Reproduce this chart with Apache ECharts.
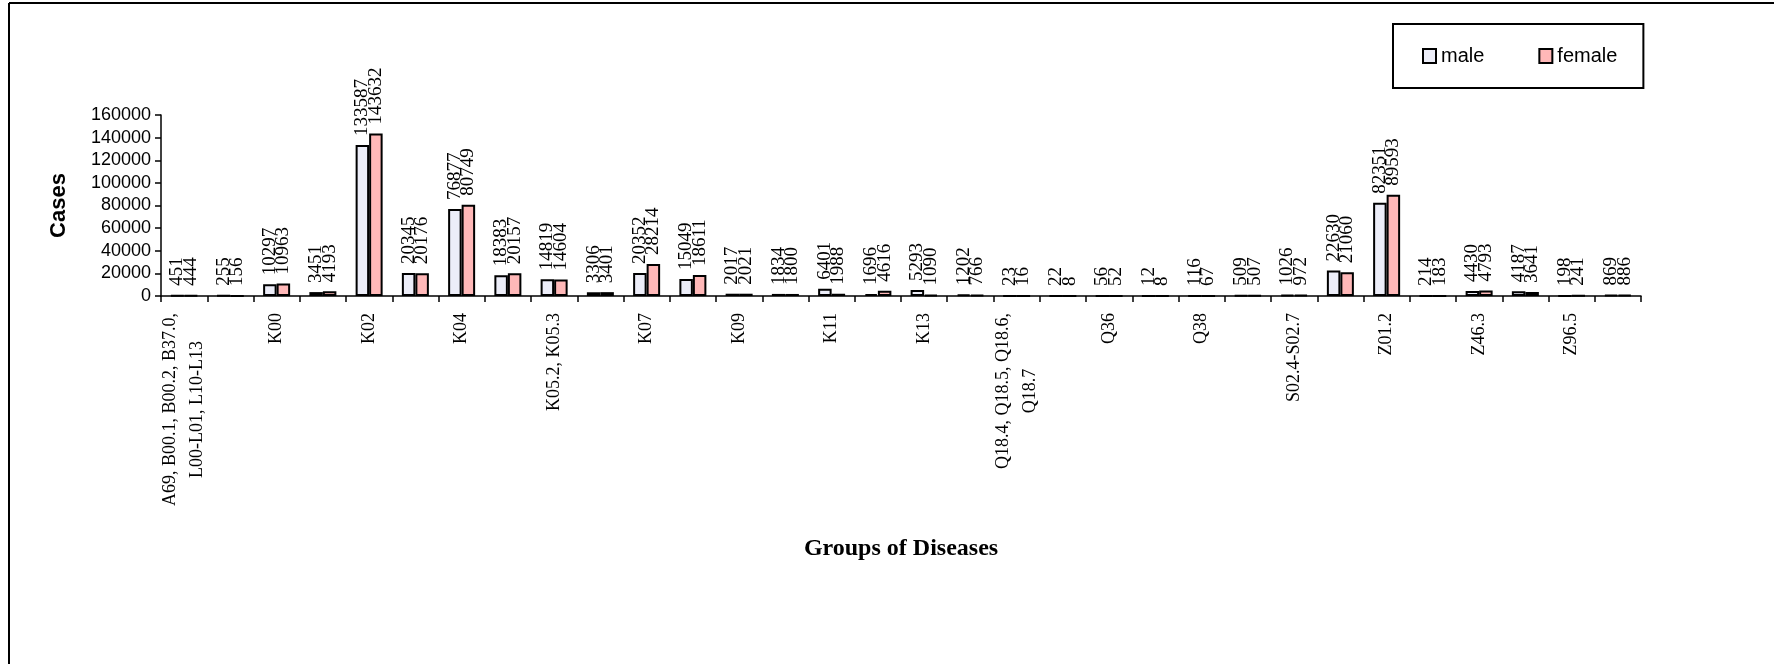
<!DOCTYPE html>
<html>
<head>
<meta charset="utf-8">
<script src="https://cdn.jsdelivr.net/npm/echarts@6/dist/echarts.min.js"></script>
<style>
html,body{margin:0;padding:0;background:#fff;}
#chart{width:1774px;height:664px;}
</style>
</head>
<body>
<div id="chart"></div>
<script>
var categories = [
  'A69, B00.1, B00.2, B37.0,\nL00-L01, L10-L13', '', 'K00', '', 'K02', '', 'K04', '',
  'K05.2, K05.3', '', 'K07', '', 'K09', '', 'K11', '', 'K13', '',
  'Q18.4, Q18.5, Q18.6,\nQ18.7', '', 'Q36', '', 'Q38', '', 'S02.4-S02.7', '',
  'Z01.2', '', 'Z46.3', '', 'Z96.5', ''
];
var male = [451, 255, 10297, 3451, 133587, 20345, 76877, 18383, 14819, 3306, 20352, 15049,
  2017, 1834, 6401, 1696, 5293, 1202, 23, 22, 56, 12, 116, 509, 1026, 22630, 82351, 214,
  4430, 4187, 198, 869];
var female = [444, 156, 10963, 4193, 143632, 20176, 80749, 20157, 14604, 3401, 28214, 18611,
  2021, 1800, 1988, 4616, 1090, 766, 16, 8, 52, 8, 67, 507, 972, 21060, 89593, 183,
  4793, 3641, 241, 886];
var yTicks = {min: 0, max: 160000, interval: 20000};

var serif = 'Liberation Serif';
var sans = 'Liberation Sans';

function labelCfg() {
  return {
    show: true, position: 'top', rotate: 90, align: 'left', verticalAlign: 'middle',
    distance: 9, fontFamily: serif, fontSize: 19, color: '#000'
  };
}

var chart = echarts.init(document.getElementById('chart'), null, {renderer: 'canvas'});
chart.setOption({
  backgroundColor: '#fff',
  animation: false,
  graphic: [
    {type: 'line', shape: {x1: 9, y1: 3, x2: 1774, y2: 3}, style: {stroke: '#000', lineWidth: 2}},
    {type: 'line', shape: {x1: 9, y1: 3, x2: 9, y2: 664}, style: {stroke: '#000', lineWidth: 2}}
  ],
  legend: {
    left: 1393, top: 24,
    orient: 'horizontal',
    padding: [22, 26, 22, 29],
    itemGap: 54, itemWidth: 13, itemHeight: 14,
    borderColor: '#000', borderWidth: 2, backgroundColor: '#fff',
    textStyle: {fontFamily: sans, fontSize: 20, color: '#000'},
    data: [{name: 'male', icon: 'rect'}, {name: 'female', icon: 'rect'}]
  },
  grid: {left: 161, right: 133, top: 115, bottom: 368, containLabel: false},
  xAxis: {
    type: 'category',
    data: categories,
    boundaryGap: true,
    name: 'Groups of Diseases',
    nameLocation: 'middle',
    nameGap: 241,
    nameTextStyle: {fontFamily: serif, fontSize: 24, fontWeight: 'bold', color: '#000'},
    axisLine: {lineStyle: {color: '#000', width: 1.5}},
    axisTick: {show: true, length: 6, inside: false, interval: 0, alignWithLabel: false, lineStyle: {color: '#000', width: 1.5}},
    axisLabel: {
      interval: 0, rotate: 90, margin: 17, color: '#000',
      fontFamily: serif, fontSize: 18,
      formatter: function (v) {
        if (!v) return '';
        return v.split('\n').map(function (s) { return '{c|' + s + '}'; }).join('\n');
      },
      rich: {c: {fontFamily: serif, fontSize: 18, color: '#000', align: 'center', lineHeight: 27}}
    },
    splitLine: {show: false}
  },
  yAxis: {
    type: 'value',
    min: yTicks.min, max: yTicks.max, interval: yTicks.interval,
    name: 'Cases',
    nameLocation: 'middle',
    nameRotate: 90,
    nameGap: 91,
    nameTextStyle: {fontFamily: sans, fontSize: 22, fontWeight: 'bold', color: '#000'},
    axisLine: {show: true, lineStyle: {color: '#000', width: 1.5}},
    axisTick: {show: true, length: 6, lineStyle: {color: '#000', width: 1.5}},
    axisLabel: {
      fontFamily: sans, fontSize: 18, color: '#000', margin: 10,
      formatter: function (v) { return String(v); }
    },
    splitLine: {show: false}
  },
  series: [
    {
      name: 'male', type: 'bar', data: male, barWidth: 13.5, barGap: '0%',
      itemStyle: {color: '#ECEDF8', borderColor: '#000', borderWidth: 2},
      label: labelCfg()
    },
    {
      name: 'female', type: 'bar', data: female, barWidth: 13.5, barGap: '0%',
      itemStyle: {color: '#FFB8B8', borderColor: '#000', borderWidth: 2},
      label: labelCfg()
    }
  ]
});
</script>
</body>
</html>
